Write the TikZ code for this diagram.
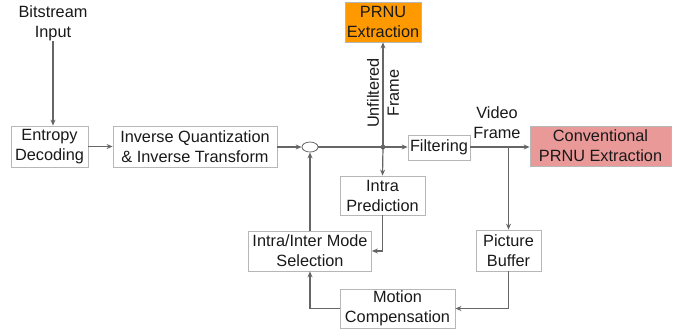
\documentclass[tikz,border=0pt]{standalone}
\usepackage{fontspec}
\setmainfont{Liberation Sans}
\usetikzlibrary{arrows.meta,shapes.geometric,calc}
\definecolor{box_line}{RGB}{183, 183, 183}
\definecolor{wire}{RGB}{102, 102, 102}
\definecolor{prnu_orange}{RGB}{255, 153, 0}
\definecolor{prnu_red}{RGB}{234, 153, 153}
\tikzstyle{box}=[rectangle,draw=box_line,line width=0.8pt,inner sep=0pt,
  align=center,text=black!90,font=\fontsize{16.3}{20}\selectfont]
\tikzstyle{lbl}=[inner sep=0pt,align=center,text=black!90,
  font=\fontsize{16.3}{20}\selectfont]
\tikzstyle{arrow}=[draw=wire,line width=1.2pt,-{Stealth[length=6pt,width=5pt]}]
\tikzstyle{wirel}=[draw=wire,line width=1.2pt]
\tikzstyle{sum}=[ellipse,draw=wire,line width=0.8pt,minimum width=16pt,
  minimum height=10pt,inner sep=0pt]
\tikzstyle{none}=[]

\begin{document}
\begin{tikzpicture}[x=10pt, y=-10pt]
            \useasboundingbox (0, 0) rectangle (68.5, 33.5);
            \node [style=lbl] (0) at (5.3, 2.35) {Bitstream\\Input};
            \node [style=box, minimum width=77pt, minimum height=41pt] (1) at (4.95, 14.65) {Entropy\\Decoding};
            \node [style=box, minimum width=164pt, minimum height=41pt] (2) at (19.5, 14.65) {Inverse Quantization\\\& Inverse Transform};
            \node [style=sum] (3) at (31, 14.7) {};
            \node [circle, fill=black!85, inner sep=0pt, minimum size=4.5pt] (4) at (38.3, 14.7) {};
            \node [style=box, minimum width=62pt, minimum height=25pt] (5) at (43.9, 14.75) {Filtering};
            \node [style=box, fill=prnu_orange, minimum width=76pt, minimum height=40pt] (6) at (38.3, 2.2) {PRNU\\Extraction};
            \node [style=box, minimum width=85pt, minimum height=39pt] (7) at (38.25, 19.55) {Intra\\Prediction};
            \node [style=box, minimum width=123pt, minimum height=40pt] (8) at (31, 25.1) {Intra/Inter Mode\\Selection};
            \node [style=box, fill=prnu_red, minimum width=141pt, minimum height=40pt] (9) at (60.05, 14.6) {Conventional\\PRNU Extraction};
            \node [style=box, minimum width=65pt, minimum height=41pt] (10) at (50.85, 25.05) {Picture\\Buffer};
            \node [style=box, minimum width=115pt, minimum height=39pt] (11) at (39.75, 30.85) {Motion\\Compensation};
            \node [style=lbl, rotate=90] (12) at (38.3, 9.3) {Unfiltered\\Frame};
            \node [style=lbl] (13) at (49.7, 12.3) {Video\\Frame};
            \coordinate (14) at (50.85, 14.7);
            \draw [style=arrow] (0.south) to (0.south |- 1.north);
            \draw [style=arrow] (1) to (2);
            \draw [style=arrow] (2.east |- 3.west) to (3.west);
            \draw [style=wirel] (3.east) to (4.center);
            \draw [style=arrow] (4.center) to (5.west |- 4.center);
            \draw [style=arrow] (4.center) to (6.south);
            \draw [style=arrow] (4.center) to (7.north);
            \draw [style=arrow] (7.south) |- (8.east);
            \draw [style=arrow] (8.north) to (3.south);
            \draw [style=arrow] (5.east |- 14) to (9.west |- 14);
            \draw [style=arrow] (14) to (10.north);
            \draw [style=arrow] (10.south) |- (11.east);
            \draw [style=arrow] (11.west) -| (8.south);
    \end{tikzpicture}
\end{document}
